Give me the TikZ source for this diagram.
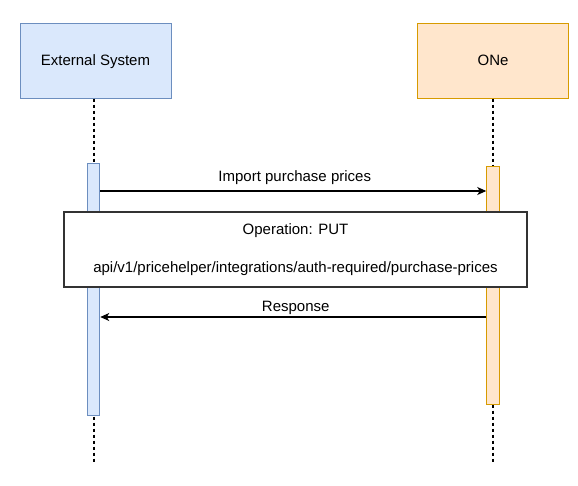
\documentclass[tikz,border=0pt]{standalone}
\usepackage{fontspec}
\setmainfont{Liberation Sans}
\usetikzlibrary{arrows.meta}
\definecolor{bluefill}{HTML}{DAE8FC}
\definecolor{bluedraw}{HTML}{6C8EBF}
\definecolor{orangefill}{HTML}{FFE6CC}
\definecolor{orangedraw}{HTML}{D79B00}
\definecolor{darkline}{HTML}{333333}
\tikzset{
  actor/.style={draw, line width=1pt, minimum width=151pt, minimum height=75pt, inner sep=0pt, text height=11pt, text depth=0.6pt, font=\fontsize{15}{18}\selectfont},
  bluebox/.style={actor, fill=bluefill, draw=bluedraw},
  orangebox/.style={actor, fill=orangefill, draw=orangedraw},
  actbar/.style={draw, line width=1pt, minimum width=12.5pt, inner sep=0pt, anchor=north},
  lifeline/.style={draw=black, line width=1.2pt, dash pattern=on 3pt off 3pt},
  msg/.style={draw=black, line width=1.1pt, -{Stealth[length=9pt,width=8pt,inset=2.5pt]}},
  msglabel/.style={font=\fontsize{15}{18}\selectfont, inner sep=0pt, anchor=base},
  notebox/.style={draw=darkline, line width=1.3pt, fill=white, minimum width=463pt, minimum height=75pt, inner sep=0pt, align=center, font=\fontsize{15}{19}\selectfont}
}
\begin{document}
\begin{tikzpicture}[x=1pt,y=-1pt]
\useasboundingbox (0,0) rectangle (578,485);
\node[bluebox] (ext) at (95.5,60.5) {External System};
\node[orangebox] (one) at (493,60.5) {ONe};
\coordinate (extend) at (94,462);
\coordinate (oneend) at (493,462);
\draw[lifeline] (ext.south -| extend) -- (extend);
\draw[lifeline] (one.south) -- (oneend);
\node[actbar, fill=bluefill, draw=bluedraw, minimum height=252pt] (barL) at (93.5,163) {};
\node[actbar, fill=orangefill, draw=orangedraw, minimum height=238pt] (barR) at (493,166) {};
\draw[msg] (barL.east |- 0,191) -- node[msglabel, yshift=10pt, xshift=1.5pt] (lbl1) {Import purchase prices} (barR.west |- 0,191);
\node[notebox] (note) at (295.5,249.5) {Operation: PUT\\[19pt]api/v1/pricehelper/integrations/auth-required/purchase-prices};
\draw[msg] (barR.west |- 0,317) -- node[msglabel, yshift=5.5pt, xshift=2.5pt] (lbl2) {Response} (barL.east |- 0,317);
\end{tikzpicture}
\end{document}
